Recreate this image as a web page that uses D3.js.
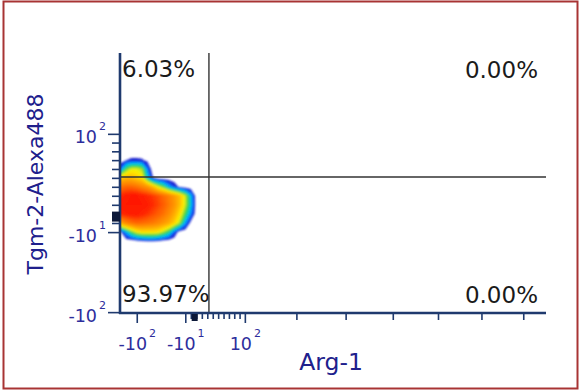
<!DOCTYPE html>
<html>
<head>
<meta charset="utf-8">
<script src="https://cdn.jsdelivr.net/npm/d3@7"></script>
<style>
  html, body { margin: 0; padding: 0; background: #fff; }
  svg { display: block; }
</style>
</head>
<body>
<svg id="chart" width="581" height="391"></svg>
<script>
// ---- Axis definitions (biexponential-style display, near-linear around zero) ----
const xDomain = [-132, 756];
const xLabeledTicks = [-100, -10, 100];
const xLabelBase = ["-10", "-10", "10"];
const xLabelExp = ["2", "1", "2"];
const xMajorTicks = [200, 300, 400, 500, 600, 700];
const xMinorTicks = [0, 10, 20, 30, 40, 50, 60, 70, 80, 90];

const yDomain = [-101, 195];
const yLabeledTicks = [100, -10, -100];
const yLabelBase = ["10", "-10", "-10"];
const yLabelExp = ["2", "1", "2"];
const yMinorTicks = [0, 10, 20, 30, 40, 50, 60, 70, 80, 90];

// Zero markers on each axis
const markerX = 7;
const markerY = 7;

// Quadrant gate position and quadrant frequencies (UL, UR, LL, LR)
const gateX = 33;
const gateY = 51;
const quadrantPercents = ["6.03%", "0.00%", "93.97%", "0.00%"];

const xTitle = "Arg-1";
const yTitle = "Tgm-2-Alexa488";

// ---- Event density grid (colour level per grid node) ----
const gridX = [-150, -140, -130, -120, -110, -100, -90, -80, -70, -60, -50, -40, -30, -20, -10, 0, 10];
const gridY = [80, 70, 60, 50, 40, 30, 20, 10, 0, -10, -20, -30];
const densityRows = [
  [0,   0,   0,   0,   0,    0,    0,   0,   0,   0,   0,   0,   0,   0,   0,   0,   0],
  [0,   0,   0,   0.5, 0.65, 0.65, 0.6, 0.3, 0,   0,   0,   0,   0,   0,   0,   0,   0],
  [1.5, 1.5, 1.5, 3.5, 4.5,  4.5,  4,   1.5, 0,   0,   0,   0,   0,   0,   0,   0,   0],
  [5.5, 5.5, 5.5, 6,   6,    5.5,  5,   2.5, 0.6, 0,   0,   0,   0,   0,   0,   0,   0],
  [8,   8,   8,   8.3, 8.3,  8,    7.5, 7,   6,   4.5, 3.5, 2,   1,   0.3, 0,   0,   0],
  [9.5, 9.5, 9.5, 9.8, 10,   10,   9.8, 9.5, 9.2, 8.8, 8.2, 7.6, 6.8, 5.8, 4.3, 2.1, 0],
  [10,  10,  10,  10,  10,   10,   10,  9.8, 9.4, 9,   8.5, 7.8, 7,   5.8, 4.3, 2.3, 0],
  [9.5, 9.5, 9.5, 9.7, 9.8,  9.8,  9.6, 9.3, 8.9, 8.5, 8,   7.3, 6.3, 5,   3.4, 1.6, 0],
  [6.5, 6.5, 6.5, 7.5, 8,    8.3,  8.2, 8,   7.8, 7.4, 6.9, 6.3, 5.3, 4,   1.8, 0.2, 0],
  [0.5, 0.5, 0.5, 2,   3.5,  4.5,  5,   5,   5,   4.8, 4,   3,   1.2, 0,   0,   0,   0],
  [0,   0,   0,   0,   0,    0.2,  0.4, 0.5, 0.5, 0.4, 0.1, 0,   0,   0,   0,   0,   0],
  [0,   0,   0,   0,   0,    0,    0,   0,   0,   0,   0,   0,   0,   0,   0,   0,   0]
];

// Colour ramp for density levels (blue edge -> red core)
const levelStops = [0.5, 1.2, 1.9, 2.6, 3.3, 4.0, 4.6, 5.5, 6.5, 7.5, 8.5, 9.3, 10];
const levelColors = ["#1818cc", "#1060ff", "#00bfff", "#10d0a0", "#38d040", "#b8e628",
                     "#fff000", "#ffc400", "#ffa000", "#ff8000", "#ff5800", "#ff2800", "#ff1400"];

// ---- Layout ----
const svg = d3.select("#chart");
const plot = { left: 120, right: 546, top: 53, bottom: 313 };

const x = d3.scaleSymlog().constant(2000).domain(xDomain).range([plot.left, plot.right]);
const y = d3.scaleSymlog().constant(2000).domain(yDomain).range([plot.bottom, plot.top]);

const axisColor = "#1f3a6e";
const tickTextColor = "#2d2d9c";
const titleColor = "#20208c";
const fontFamily = "'DejaVu Sans', Verdana, sans-serif";

// Outer frame
svg.append("rect")
  .attr("x", 3.5).attr("y", 1.5)
  .attr("width", 574).attr("height", 387)
  .attr("fill", "#fff")
  .attr("stroke", "#a83434").attr("stroke-width", 2);

// ---- Density blob ----
const defs = svg.append("defs");
defs.append("clipPath").attr("id", "plotClip")
  .append("rect")
  .attr("x", plot.left).attr("y", plot.top)
  .attr("width", plot.right - plot.left).attr("height", plot.bottom - plot.top);
defs.append("filter").attr("id", "soften")
  .attr("x", "-10%").attr("y", "-10%").attr("width", "120%").attr("height", "120%")
  .append("feGaussianBlur").attr("stdDeviation", 0.9);

const color = d3.scaleLinear().domain(levelStops).range(levelColors).clamp(true);
const thresholds = d3.range(0.5, 10.01, 0.25);
const nx = gridX.length, ny = gridY.length;
const contours = d3.contours().size([nx, ny]).thresholds(thresholds)(densityRows.flat());

const stepX = gridX[1] - gridX[0];
const stepY = gridY[1] - gridY[0];
const gridPath = d3.geoPath(d3.geoTransform({
  point(gx, gy) {
    const vx = gridX[0] + (gx - 0.5) * stepX;
    const vy = gridY[0] + (gy - 0.5) * stepY;
    this.stream.point(x(vx), y(vy));
  }
}));

svg.append("g")
  .attr("clip-path", "url(#plotClip)")
  .append("g")
  .attr("filter", "url(#soften)")
  .selectAll("path")
  .data(contours)
  .join("path")
  .attr("d", gridPath)
  .attr("fill", d => color(d.value));

// ---- Quadrant gate ----
svg.append("line")
  .attr("x1", x(gateX)).attr("x2", x(gateX))
  .attr("y1", plot.top).attr("y2", plot.bottom)
  .attr("stroke", "#333").attr("stroke-width", 1.4);
svg.append("line")
  .attr("x1", plot.left).attr("x2", plot.right)
  .attr("y1", y(gateY)).attr("y2", y(gateY))
  .attr("stroke", "#333").attr("stroke-width", 1.4);

// ---- Axes ----
function styleAxis(g) {
  g.select(".domain").remove();
  g.selectAll(".tick line").attr("stroke", axisColor).attr("stroke-width", 1.6);
  g.selectAll(".tick text").remove();
}

const xAxisG = svg.append("g").attr("transform", `translate(0,${plot.bottom})`);
xAxisG.append("g").call(d3.axisBottom(x).tickValues(xMinorTicks).tickSize(6).tickSizeOuter(0)).call(styleAxis);
xAxisG.append("g").call(d3.axisBottom(x).tickValues(xMajorTicks).tickSize(7).tickSizeOuter(0)).call(styleAxis);
const xLab = xAxisG.append("g").call(d3.axisBottom(x).tickValues(xLabeledTicks).tickSize(10).tickSizeOuter(0)).call(styleAxis);
xLab.selectAll(".tick").each(function(d, i) {
  const t = d3.select(this).append("text")
    .attr("y", 37).attr("text-anchor", "middle")
    .attr("fill", tickTextColor)
    .style("font-family", fontFamily).style("font-size", "17.5px");
  t.append("tspan").text(xLabelBase[i]);
  t.append("tspan").attr("dx", 2).attr("dy", -13).style("font-size", "11px").text(xLabelExp[i]);
});

const yAxisG = svg.append("g").attr("transform", `translate(${plot.left},0)`);
yAxisG.append("g").call(d3.axisLeft(y).tickValues(yMinorTicks).tickSize(8).tickSizeOuter(0)).call(styleAxis);
const yLab = yAxisG.append("g").call(d3.axisLeft(y).tickValues(yLabeledTicks).tickSize(12).tickSizeOuter(0)).call(styleAxis);
yLab.selectAll(".tick").each(function(d, i) {
  const t = d3.select(this).append("text")
    .attr("x", -14).attr("y", 9).attr("text-anchor", "end")
    .attr("fill", tickTextColor)
    .style("font-family", fontFamily).style("font-size", "17.5px");
  t.append("tspan").text(yLabelBase[i]);
  t.append("tspan").attr("dx", 2).attr("dy", -13).style("font-size", "11px").text(yLabelExp[i]);
});

// Axis lines
svg.append("line")
  .attr("x1", plot.left).attr("x2", plot.left)
  .attr("y1", plot.top).attr("y2", plot.bottom + 1)
  .attr("stroke", axisColor).attr("stroke-width", 2.6);
svg.append("line")
  .attr("x1", plot.left - 1).attr("x2", plot.right)
  .attr("y1", plot.bottom).attr("y2", plot.bottom)
  .attr("stroke", axisColor).attr("stroke-width", 2.6);

// Zero markers
svg.append("rect")
  .attr("x", x(markerX) - 3).attr("y", plot.bottom + 1)
  .attr("width", 6).attr("height", 7).attr("fill", "#0c1838");
svg.append("rect")
  .attr("x", plot.left - 8).attr("y", y(markerY) - 5)
  .attr("width", 8).attr("height", 10).attr("fill", "#0c1838");

// ---- Quadrant labels ----
const pctStyle = t => t.attr("fill", "#1a1a1a")
  .style("font-family", fontFamily).style("font-size", "23px");
svg.append("text").attr("x", plot.left + 2).attr("y", plot.top + 24).text(quadrantPercents[0]).call(pctStyle);
svg.append("text").attr("x", 538).attr("y", plot.top + 25).attr("text-anchor", "end").text(quadrantPercents[1]).call(pctStyle);
svg.append("text").attr("x", plot.left + 2).attr("y", plot.bottom - 11).text(quadrantPercents[2]).call(pctStyle);
svg.append("text").attr("x", 538).attr("y", plot.bottom - 10).attr("text-anchor", "end").text(quadrantPercents[3]).call(pctStyle);

// ---- Axis titles ----
svg.append("text")
  .attr("x", 331).attr("y", 370).attr("text-anchor", "middle")
  .attr("fill", titleColor)
  .style("font-family", fontFamily).style("font-size", "23.5px")
  .text(xTitle);
svg.append("text")
  .attr("transform", "translate(43,184) rotate(-90)")
  .attr("text-anchor", "middle")
  .attr("fill", titleColor)
  .style("font-family", fontFamily).style("font-size", "22px")
  .text(yTitle);
</script>
</body>
</html>
